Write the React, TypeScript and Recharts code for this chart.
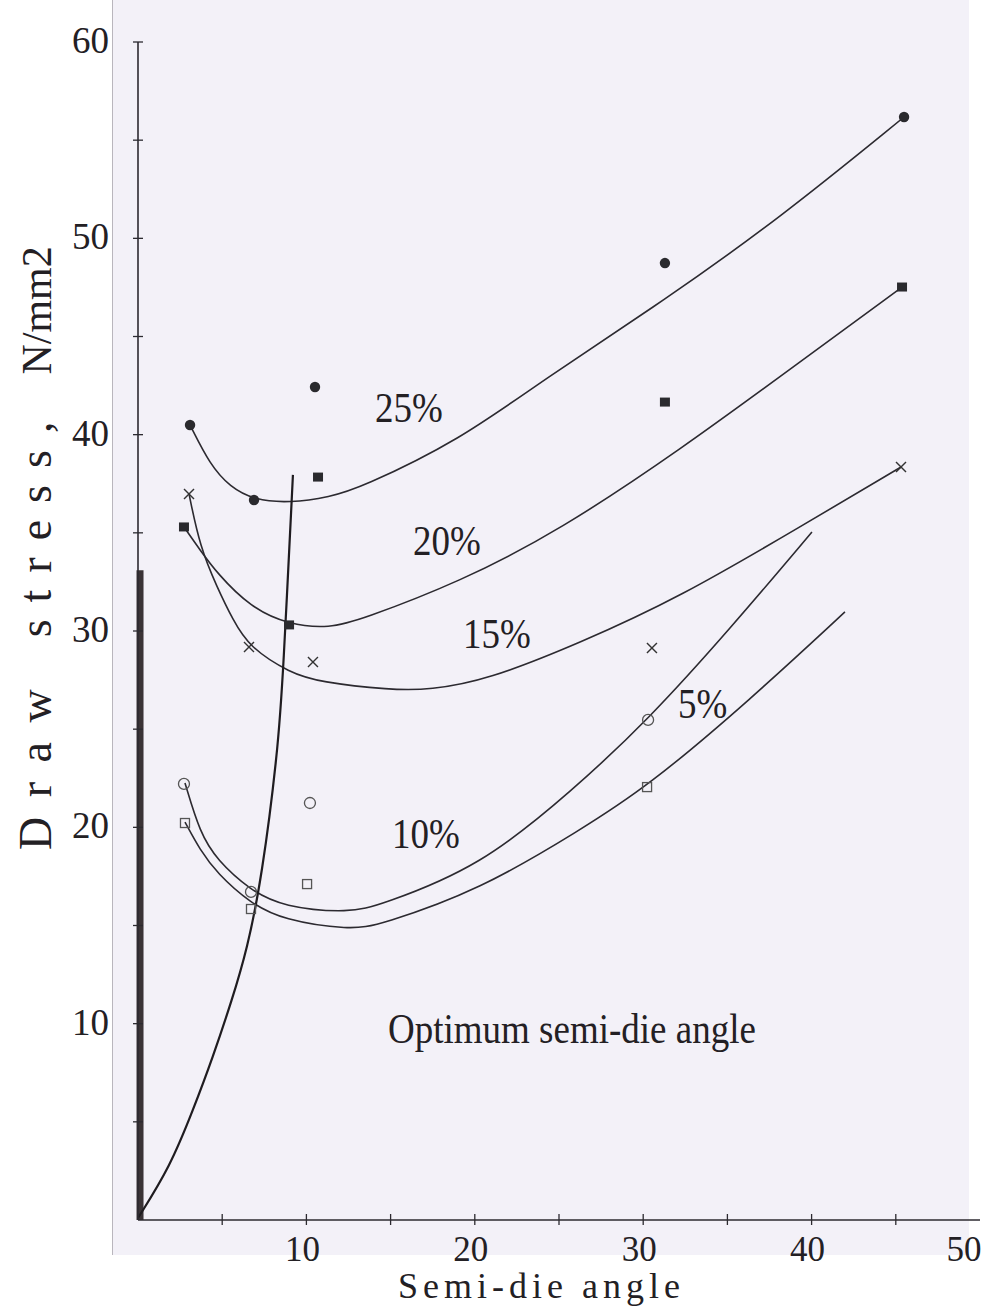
import React from 'react';
import { ComposedChart, Line, Scatter, XAxis, YAxis, ReferenceLine, ReferenceDot } from 'recharts';

// measured points, semi-die angle (deg) vs draw stress (N/mm2)
const points25 = [
  { x: 3.09, y: 40.49 }, { x: 6.89, y: 36.67 }, { x: 10.51, y: 42.43 }, { x: 31.29, y: 48.74 }, { x: 45.49, y: 56.18 },
];
const points20 = [
  { x: 2.73, y: 35.3 }, { x: 10.69, y: 37.84 }, { x: 8.97, y: 30.31 }, { x: 31.29, y: 41.66 }, { x: 45.37, y: 47.52 },
];
const points15 = [
  { x: 3.03, y: 36.98 }, { x: 6.59, y: 29.19 }, { x: 10.39, y: 28.42 }, { x: 30.52, y: 29.13 }, { x: 45.31, y: 38.35 },
];
const points10 = [
  { x: 2.73, y: 22.21 }, { x: 6.71, y: 16.71 }, { x: 10.21, y: 21.24 }, { x: 30.29, y: 25.47 },
];
const points5 = [
  { x: 2.79, y: 20.22 }, { x: 6.71, y: 15.84 }, { x: 10.04, y: 17.11 }, { x: 30.23, y: 22.05 },
];

// hand-drawn fitted curves
const curve25 = [
  { x: 3.09, y: 40.49 }, { x: 4.28, y: 38.46 }, { x: 5.46, y: 37.34 }, { x: 6.89, y: 36.67 }, { x: 9.03, y: 36.52 },
  { x: 11.4, y: 36.83 }, { x: 13.18, y: 37.28 }, { x: 19.12, y: 39.73 }, { x: 24.05, y: 42.79 }, { x: 31.29, y: 46.86 },
  { x: 38.12, y: 51.04 }, { x: 45.49, y: 56.18 },
];
const curve20 = [
  { x: 2.73, y: 35.3 }, { x: 3.68, y: 34.13 }, { x: 4.69, y: 32.95 }, { x: 6.65, y: 31.22 }, { x: 8.97, y: 30.31 },
  { x: 11.4, y: 30.15 }, { x: 13.18, y: 30.56 }, { x: 19.12, y: 32.5 }, { x: 25.06, y: 35.14 }, { x: 32.19, y: 39.22 },
  { x: 39.31, y: 43.7 }, { x: 45.37, y: 47.52 },
];
const curve15 = [
  { x: 3.03, y: 36.98 }, { x: 3.68, y: 34.28 }, { x: 4.69, y: 32.24 }, { x: 5.64, y: 30.56 }, { x: 6.59, y: 29.19 },
  { x: 9.03, y: 27.86 }, { x: 10.81, y: 27.4 }, { x: 14.96, y: 27.0 }, { x: 17.34, y: 27.0 }, { x: 20.72, y: 27.5 },
  { x: 26.25, y: 29.39 }, { x: 32.19, y: 31.73 }, { x: 39.31, y: 35.3 }, { x: 45.31, y: 38.35 },
];
const curve10 = [
  { x: 2.79, y: 22.26 }, { x: 3.68, y: 19.71 }, { x: 4.69, y: 18.34 }, { x: 6.65, y: 16.81 }, { x: 8.61, y: 15.94 },
  { x: 12.59, y: 15.64 }, { x: 14.37, y: 16.04 }, { x: 20.31, y: 17.98 }, { x: 25.83, y: 21.9 }, { x: 30.29, y: 25.47 },
  { x: 35.15, y: 30.1 }, { x: 40.02, y: 35.04 },
];
const curve5 = [
  { x: 2.79, y: 20.27 }, { x: 3.68, y: 18.85 }, { x: 4.69, y: 17.67 }, { x: 6.65, y: 16.15 }, { x: 8.61, y: 15.28 },
  { x: 12.59, y: 14.77 }, { x: 14.37, y: 15.03 }, { x: 20.31, y: 16.81 }, { x: 26.25, y: 19.86 }, { x: 30.23, y: 22.05 },
  { x: 36.34, y: 26.49 }, { x: 41.98, y: 30.97 },
];
const optimumLine = [
  { x: 0, y: 0.1 }, { x: 1.9, y: 2.7 }, { x: 3.27, y: 5.6 }, { x: 4.45, y: 8.3 }, { x: 5.58, y: 11.21 },
  { x: 6.47, y: 13.75 }, { x: 7.36, y: 17.47 }, { x: 8.31, y: 23.94 }, { x: 8.61, y: 27.66 }, { x: 9.2, y: 37.95 },
];

const annotations = [
  { text: '25%', x: 14.07, y: 40.65 },
  { text: '20%', x: 16.33, y: 33.88 },
  { text: '15%', x: 19.3, y: 29.14 },
  { text: '5%', x: 32.07, y: 25.57 },
  { text: '10%', x: 15.08, y: 18.95 },
  { text: 'Optimum semi-die angle', x: 14.85, y: 9.02 },
];

const xTicks = [5, 10, 15, 20, 25, 30, 35, 40, 45, 50];
const xTickLabels = [10, 20, 30, 40, 50];
const yTicks = [5, 10, 15, 20, 25, 30, 35, 40, 45, 50, 55, 60];
const yTickLabels = [10, 20, 30, 40, 50, 60];

const FONT = '"Liberation Serif", "Times New Roman", serif';
const INK = '#232024';
const PEN = '#2c2a30';

const XTick = (p: any) => {
  const v = p.payload.value;
  return (
    <g>
      {v < 50 && <line x1={p.x} x2={p.x} y1={p.y - 6} y2={p.y + 5} stroke={PEN} strokeWidth={1.3} />}
      {xTickLabels.includes(v) && (
        <text x={v === 50 ? p.x - 16 : p.x - 4} y={p.y + 41} textAnchor="middle" fontSize={35} fontFamily={FONT} fill={INK}>
          {v}
        </text>
      )}
    </g>
  );
};

const YTick = (p: any) => {
  const v = p.payload.value;
  return (
    <g>
      <line x1={p.x - 5} x2={p.x + 5} y1={p.y} y2={p.y} stroke={PEN} strokeWidth={1.3} />
      {yTickLabels.includes(v) && (
        <text x={p.x - 29} y={p.y + 11} textAnchor="end" fontSize={37} fontFamily={FONT} fill={INK}>
          {v}
        </text>
      )}
    </g>
  );
};

const FilledCircle = (p: any) => <circle cx={p.cx} cy={p.cy} r={5.2} fill="#2a2a2e" />;
const FilledSquare = (p: any) => <rect x={p.cx - 5} y={p.cy - 4.5} width={10} height={9} fill="#2a2a2e" />;
const Cross = (p: any) => (
  <g stroke="#333" strokeWidth={1.4}>
    <line x1={p.cx - 5} y1={p.cy - 5} x2={p.cx + 5} y2={p.cy + 5} />
    <line x1={p.cx - 5} y1={p.cy + 5} x2={p.cx + 5} y2={p.cy - 5} />
  </g>
);
const OpenCircle = (p: any) => <circle cx={p.cx} cy={p.cy} r={5.5} fill="none" stroke="#555" strokeWidth={1.3} />;
const OpenSquare = (p: any) => (
  <rect x={p.cx - 4.5} y={p.cy - 4.5} width={9} height={9} fill="none" stroke="#555" strokeWidth={1.3} />
);

const Annotation = (text: string) => (p: any) => (
  <text transform={`translate(${p.cx},${p.cy}) scale(1,1.15)`} fontSize={37} fontFamily={FONT} fill={INK}>
    {text}
  </text>
);

const YTitle = (p: any) => {
  const vb = p.viewBox;
  return (
    <text transform={`translate(${vb.x - 86},850) rotate(-90)`} fontFamily={FONT} fill={INK} fontSize={46}>
      <tspan letterSpacing={4}>D r a w</tspan>
      <tspan dx={48} letterSpacing={17}>stress,</tspan>
      <tspan dx={30} fontSize={42}>N/mm2</tspan>
    </text>
  );
};

const XTitle = (p: any) => {
  const vb = p.viewBox;
  return (
    <text x={398} y={vb.y + 78} fontFamily={FONT} fill={INK} fontSize={36} letterSpacing={5}>
      Semi-die angle
    </text>
  );
};

const lines = [curve25, curve20, curve15, curve10, curve5];

export default function App() {
  return (
    <div style={{ position: 'absolute', left: 0, top: 0, width: 989, height: 1309, background: '#ffffff' }}>
      <div
        style={{
          position: 'absolute',
          left: 112,
          top: 0,
          width: 856,
          height: 1255,
          background: '#f3f1f8',
          borderLeft: '1.5px solid #b9b6bd',
        }}
      />
      <div style={{ position: 'absolute', left: 0, top: 0 }}>
        <ComposedChart width={989} height={1309} margin={{ top: 42, right: 9, bottom: 88, left: 137 }}>
          <XAxis
            type="number"
            dataKey="x"
            domain={[0, 50]}
            ticks={xTicks}
            tick={<XTick />}
            tickLine={false}
            tickSize={0}
            tickMargin={0}
            height={1}
            axisLine={{ stroke: PEN, strokeWidth: 1.4 }}
            interval={0}
            allowDataOverflow
            label={<XTitle />}
          />
          <YAxis
            type="number"
            dataKey="y"
            domain={[0, 60]}
            ticks={yTicks}
            tick={<YTick />}
            tickLine={false}
            tickSize={0}
            tickMargin={0}
            width={1}
            axisLine={{ stroke: PEN, strokeWidth: 1.6 }}
            interval={0}
            allowDataOverflow
            label={<YTitle />}
          />
          <ReferenceLine
            segment={[{ x: 0.12, y: 0 }, { x: 0.12, y: 33.1 }]}
            stroke="#3a3336"
            strokeWidth={7}
            ifOverflow="visible"
          />
          {lines.map((d, i) => (
            <Line
              key={i}
              data={d}
              dataKey="y"
              type="basis"
              dot={false}
              stroke={PEN}
              strokeWidth={1.6}
              isAnimationActive={false}
            />
          ))}
          <Line
            data={optimumLine}
            dataKey="y"
            type="basis"
            dot={false}
            stroke="#1f1c20"
            strokeWidth={2.2}
            isAnimationActive={false}
          />
          <Scatter data={points25} dataKey="y" shape={FilledCircle} isAnimationActive={false} />
          <Scatter data={points20} dataKey="y" shape={FilledSquare} isAnimationActive={false} />
          <Scatter data={points15} dataKey="y" shape={Cross} isAnimationActive={false} />
          <Scatter data={points10} dataKey="y" shape={OpenCircle} isAnimationActive={false} />
          <Scatter data={points5} dataKey="y" shape={OpenSquare} isAnimationActive={false} />
          {annotations.map((a) => (
            <ReferenceDot key={a.text} x={a.x} y={a.y} r={0} shape={Annotation(a.text)} ifOverflow="visible" />
          ))}
        </ComposedChart>
      </div>
    </div>
  );
}
